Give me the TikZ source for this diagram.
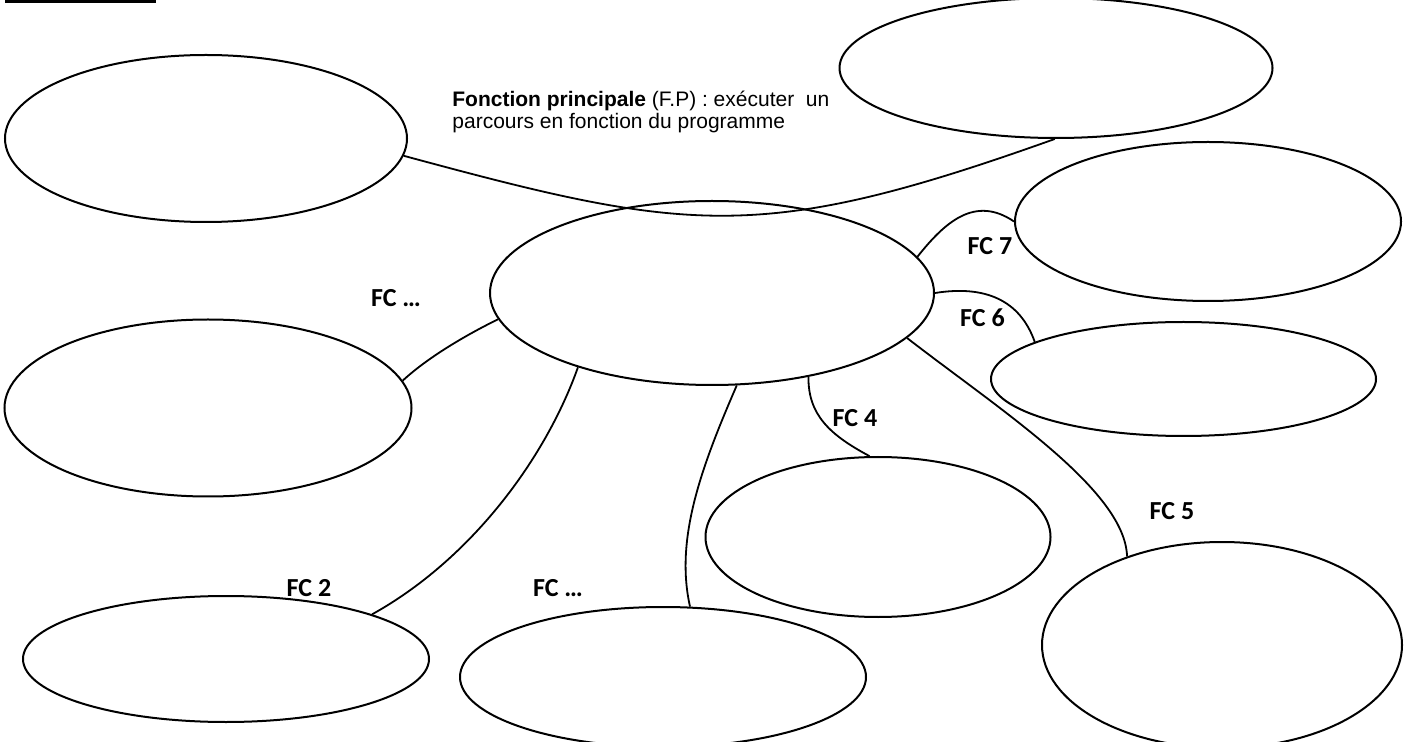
\documentclass[tikz,border=0pt]{standalone}
\usepackage{fontspec}
\setmainfont{Liberation Sans}
\newfontfamily\fcfont{Carlito}
\usetikzlibrary{shapes.geometric}

\begin{document}
\begin{tikzpicture}[x=0.5pt,y=-0.5pt,
  bulle/.style={draw,ellipse,line width=1pt,inner sep=0pt},
  lien/.style={line width=0.9pt},
  fc/.style={font=\fcfont\bfseries\fontsize{13}{15}\selectfont,inner sep=0pt}]
\useasboundingbox (0,0) rectangle (1407,742);
\fill (5,0) rectangle (156,3);
\node[bulle,minimum width=201pt,minimum height=83.5pt] (ehg) at (206,138.5) {};
\node[bulle,minimum width=216.5pt,minimum height=70pt] (ehd) at (1056,68) {};
\node[bulle,minimum width=222pt,minimum height=92pt] (fp) at (712,293) {};
\node[bulle,minimum width=193pt,minimum height=79.5pt] (efc7) at (1208,221.5) {};
\node[bulle,minimum width=192.5pt,minimum height=57pt] (efc6) at (1183.5,379) {};
\node[bulle,minimum width=203.5pt,minimum height=88.5pt] (efcg) at (208,408) {};
\node[bulle,minimum width=172.5pt,minimum height=80pt] (efc4) at (878,537) {};
\node[bulle,minimum width=180pt,minimum height=103pt] (efc5) at (1222,645) {};
\node[bulle,minimum width=203pt,minimum height=63pt] (efc2) at (226,659) {};
\node[bulle,minimum width=203pt,minimum height=70pt] (efcb) at (663,677) {};
\node[anchor=base west,inner sep=0pt,align=left,font=\fontsize{10.5}{9.3}\selectfont] (txtfp) at (452,128.5)
  {\textbf{Fonction principale} (F.P) : exécuter~ un\\parcours en fonction du programme};
\node[fc] (fc7) at (990,246.5) {FC 7};
\node[fc] (fc6) at (982.5,318) {FC 6};
\node[fc] (fc5) at (1172,511) {FC 5};
\node[fc] (fc4) at (855,418.5) {FC 4};
\node[fc] (fcb) at (558,588.5) {FC …};
\node[fc] (fc2) at (309,588.5) {FC 2};
\node[fc] (fcg) at (396,298) {FC …};
\draw[lien] (ehg.-5) .. controls (689,233) and (761,244) .. (ehd.-91);
\draw[lien] (fp.10) .. controls (945,222) and (975,195) .. (efc7.180);
\draw[lien] (fp.east) .. controls (985,285) and (1020,300) .. (efc6.166.5);
\draw[lien] (fp.-13.7) .. controls (1000,410) and (1125,490) .. (efc5.137);
\draw[lien] (fp.-41) .. controls (808,415) and (830,435) .. (efc4.96);
\draw[lien] (fp.-75) .. controls (700,470) and (675,540) .. (efcb.69);
\draw[lien] (fp.209) .. controls (545,460) and (470,560) .. (efc2.17);
\draw[lien] (fp.187) .. controls (460,338) and (425,360) .. (efcg.8);
\end{tikzpicture}
\end{document}
